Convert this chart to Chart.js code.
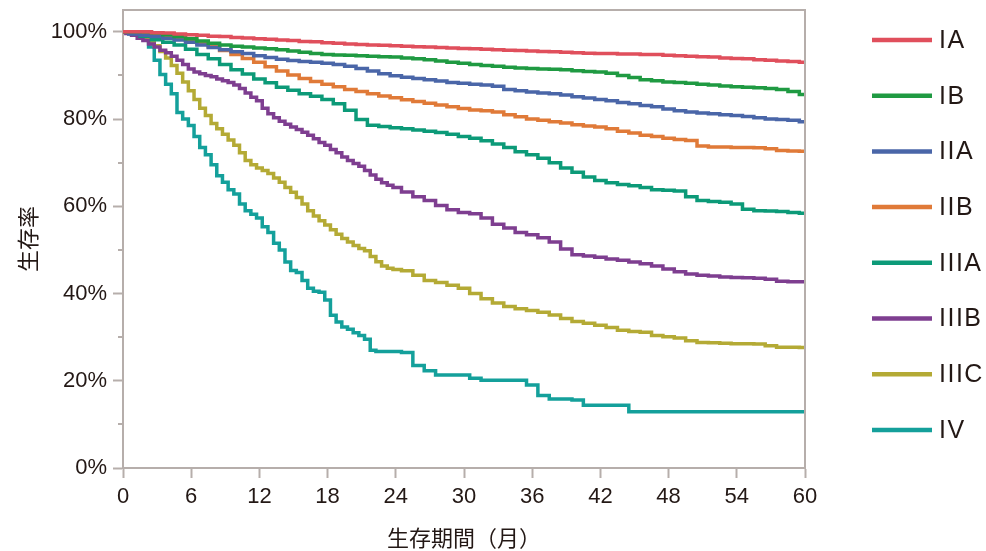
<!DOCTYPE html>
<html>
<head>
<meta charset="utf-8">
<script src="https://cdn.jsdelivr.net/npm/chart.js@4/dist/chart.umd.min.js"></script>
<style>
  html, body { margin: 0; padding: 0; background: #fff; }
  #wrap { width: 986px; height: 551px; }
</style>
</head>
<body>
<div id="wrap"><canvas id="survivalChart" width="986" height="551"></canvas></div>
<script>
// stage names (legend order)
const stages = ['IA', 'IB', 'IIA', 'IIB', 'IIIA', 'IIIB', 'IIIC', 'IV'];

// monthly grid, 0..60
const months = [0,1,2,3,4,5,6,7,8,9,10,11,12,13,14,15,16,17,18,19,20,21,22,23,24,25,26,27,28,29,30,
  31,32,33,34,35,36,37,38,39,40,41,42,43,44,45,46,47,48,49,50,51,52,53,54,55,56,57,58,59,60];

// finer grid for the steep curves (half months up to 24)
const monthsFine = [0,0.5,1,1.5,2,2.5,3,3.5,4,4.5,5,5.5,6,6.5,7,7.5,8,8.5,9,9.5,10,10.5,11,11.5,12,
  12.5,13,13.5,14,14.5,15,15.5,16,16.5,17,17.5,18,18.5,19,19.5,20,20.5,21,21.5,22,22.5,23,23.5,24,
  25,26,27,28,29,30,31,32,33,34,35,36,37,38,39,40,41,42,43,44,45,46,47,48,49,50,51,52,53,54,55,56,57,58,59,60];

// survival (%)
const survIA = [100,100,100,99.8,99.7,99.5,99.3,99.2,99.0,98.9,98.7,98.6,98.4,98.3,98.1,98.0,97.8,97.7,97.5,97.4,
  97.2,97.1,97.0,96.9,96.8,96.7,96.6,96.5,96.4,96.3,96.2,96.1,96.0,95.9,95.8,95.7,95.6,95.5,95.4,95.3,
  95.2,95.1,95.0,95.0,94.9,94.9,94.8,94.8,94.6,94.5,94.4,94.3,94.2,94.0,93.9,93.8,93.6,93.5,93.3,93.2,93.0];
const survIB = [100,100,100,99.7,99.3,98.9,98.4,97.9,97.4,97.0,96.7,96.5,96.3,96.1,95.9,95.6,95.3,95.0,94.8,94.7,
  94.6,94.5,94.4,94.3,94.2,94.0,93.8,93.6,93.3,93.0,92.8,92.5,92.3,92.1,91.9,91.7,91.6,91.5,91.4,91.3,
  91.1,90.9,90.8,90.5,90.0,89.5,89.0,88.8,88.5,88.4,88.2,88.0,87.8,87.6,87.4,87.3,87.2,87.0,86.8,86.3,85.6];
const survIIA = [100,99.5,99.2,98.9,98.5,98.1,97.6,97.0,96.4,95.9,95.4,95.0,94.5,94.1,93.7,93.4,93.2,93.0,92.8,92.5,
  92.1,91.6,91.0,90.4,89.9,89.6,89.3,89.0,88.7,88.4,88.2,88.0,87.8,87.5,86.8,86.5,86.2,86.0,85.8,85.5,
  85.1,84.8,84.5,84.2,83.8,83.5,83.1,82.8,82.3,81.9,81.6,81.4,81.2,81.0,80.8,80.6,80.3,80.0,79.9,79.7,79.4];
const survIIB = [100,100,99.8,99.4,99.0,98.5,98.0,97.3,96.6,95.7,94.8,93.9,93.0,92.0,91.0,90.1,89.3,88.6,88.0,87.4,
  86.8,86.3,85.8,85.3,84.9,84.4,84.0,83.6,83.2,82.8,82.4,82.1,81.9,81.6,81.0,80.5,80.0,79.7,79.4,79.1,
  78.7,78.4,78.2,77.8,77.2,76.8,76.3,76.0,75.6,75.3,75.1,73.8,73.6,73.6,73.5,73.5,73.4,73.2,72.8,72.7,72.6];
const survIIIA = [100,99.6,99.0,98.2,97.6,97.0,96.0,94.8,93.8,92.5,91.3,90.3,89.2,88.3,87.3,86.6,85.8,85.2,84.5,83.5,
  82.0,79.9,78.6,78.3,78.0,77.8,77.5,77.2,76.9,76.5,76.0,75.6,75.0,74.3,73.5,72.5,71.8,71.0,70.0,68.8,
  67.8,66.7,65.9,65.4,65.0,64.7,64.3,63.8,63.7,63.5,62.2,61.3,61.1,60.9,60.5,59.3,59.0,58.9,58.8,58.6,58.4];
const survIIIB = [100,99.6,99.2,98.5,98.0,97.2,96.5,95.8,95.2,94.4,93.5,92.5,91.5,90.8,90.4,90.0,89.7,89.2,88.8,88.4,
  87.8,87.0,86.0,85.0,84.2,82.5,81.2,80.3,79.5,78.8,78.2,77.6,77.0,76.3,75.5,74.6,74.0,73.0,72.3,71.3,
  70.5,69.8,69.2,68.2,67.2,66.2,65.4,64.8,64.3,
  63.3,62.2,61.3,60.2,59.2,58.6,58.3,57.3,55.9,55.0,54.0,53.5,52.8,51.8,50.2,48.9,48.6,48.3,47.9,47.6,
  47.2,46.8,46.3,45.6,45.0,44.5,44.2,44.0,43.8,43.7,43.6,43.5,43.3,42.8,42.7,42.7];
const survIIIC = [100,100,99.8,99.4,98.8,97.8,96.8,95.5,94.0,92.3,90.5,88.5,86.5,84.5,82.5,80.8,79.0,77.8,76.5,75.2,
  74.0,72.3,70.5,69.5,68.8,68.2,67.5,66.5,65.5,64.3,63.2,62.0,60.5,59.0,57.8,56.7,55.7,54.6,53.6,52.6,
  51.8,51.0,50.3,49.8,48.5,47.3,46.3,45.8,45.5,
  45.2,44.2,43.0,42.5,41.9,41.2,40.0,38.8,37.8,37.0,36.5,36.1,35.7,35.1,34.3,33.6,33.2,32.7,32.2,31.6,
  31.3,31.1,30.4,30.1,29.8,29.2,28.8,28.7,28.6,28.5,28.5,28.4,28.0,27.7,27.7,27.6];
const survIV = [100,100,100,99.7,98.5,96.5,93.5,90.2,88.0,85.8,81.5,80.0,78.5,76.0,73.5,71.8,69.5,67.0,65.5,63.8,
  62.8,60.5,59.0,58.2,57.3,55.3,54.0,51.5,50.0,47.2,45.3,44.8,43.0,41.2,40.5,40.3,38.5,35.0,33.5,32.3,
  31.8,31.0,30.4,29.5,27.0,26.7,26.7,26.7,26.7,
  26.5,23.5,22.3,21.3,21.3,21.3,20.6,20.1,20.1,20.1,20.1,19.0,16.6,15.8,15.8,15.6,14.4,14.4,14.4,14.4,
  12.9,12.9,12.9,12.9,12.9,12.9,12.9,12.9,12.9,12.9,12.9,12.9,12.9,12.9,12.9,12.9];

const xTicks = [0, 6, 12, 18, 24, 30, 36, 42, 48, 54, 60];
const yTicks = [0, 20, 40, 60, 80, 100];
const yMinorTicks = [10, 30, 50, 70, 90];

// styling
const lineColors = ['#e04f5c', '#1f9a42', '#4a66a8', '#e07a38', '#0c9a78', '#7e3e90', '#b4aa35', '#14a09b'];
const axisColor = '#b6aeab';
const textColor = '#231815';
const numFont = "'Liberation Sans', Arial, sans-serif";
const jpFont = "'Noto Sans CJK JP', sans-serif";

const seriesValues = [survIA, survIB, survIIA, survIIB, survIIIA, survIIIB, survIIIC, survIV];
const seriesTimes = [months, months, months, months, months, monthsFine, monthsFine, monthsFine];

function toPoints(times, vals) {
  return times.map((t, i) => ({ x: t, y: vals[i] }));
}

// top/right frame, minor y ticks and the legend on the right
const framePlugin = {
  id: 'framePlugin',
  afterDraw(chart) {
    const { ctx, chartArea: a, scales } = chart;
    ctx.save();
    ctx.strokeStyle = axisColor;
    ctx.lineWidth = 2;
    ctx.beginPath();
    ctx.moveTo(a.left, a.top);
    ctx.lineTo(a.right, a.top);
    ctx.lineTo(a.right, a.bottom);
    yMinorTicks.forEach(v => {
      const y = Math.round(scales.y.getPixelForValue(v));
      ctx.moveTo(a.left - 5, y);
      ctx.lineTo(a.left, y);
    });
    ctx.stroke();

    // legend
    const x0 = 872, x1 = 932, top = 40, gap = 55.7;
    ctx.font = '25px ' + numFont;
    ctx.textBaseline = 'middle';
    ctx.textAlign = 'left';
    if ('letterSpacing' in ctx) ctx.letterSpacing = '1.5px';
    chart.data.datasets.forEach((ds, i) => {
      const y = top + i * gap;
      ctx.strokeStyle = ds.borderColor;
      ctx.lineWidth = 4.5;
      ctx.beginPath();
      ctx.moveTo(x0, y);
      ctx.lineTo(x1, y);
      ctx.stroke();
      ctx.fillStyle = textColor;
      ctx.fillText(ds.label, 939, y + 1);
    });
    ctx.restore();
  }
};

const ctx = document.getElementById('survivalChart').getContext('2d');
new Chart(ctx, {
  type: 'line',
  data: {
    datasets: stages.map((s, i) => ({
      label: s,
      data: toPoints(seriesTimes[i], seriesValues[i]),
      borderColor: lineColors[i],
      borderWidth: 3.5,
      pointRadius: 0,
      stepped: 'middle',
      fill: false
    }))
  },
  options: {
    responsive: false,
    devicePixelRatio: 1,
    animation: false,
    layout: { padding: { top: 10, right: 181, left: 0, bottom: 0 } },
    plugins: { legend: { display: false }, tooltip: { enabled: false } },
    scales: {
      x: {
        type: 'linear',
        min: 0,
        max: 60,
        afterBuildTicks: s => { s.ticks = xTicks.map(v => ({ value: v })); },
        ticks: { font: { family: numFont, size: 22 }, color: textColor, padding: 6, maxRotation: 0 },
        grid: { drawOnChartArea: false, tickLength: 10, tickColor: axisColor, tickWidth: 2 },
        border: { color: axisColor, width: 2 },
        title: { display: true, text: '生存期間（月）', font: { family: jpFont, size: 22 }, color: textColor, padding: { top: 0, bottom: 0 } },
        afterFit: s => { s.height = 83; }
      },
      y: {
        min: 0,
        max: 105,
        afterBuildTicks: s => { s.ticks = yTicks.map(v => ({ value: v })); },
        ticks: { font: { family: numFont, size: 22 }, color: textColor, padding: 6, callback: v => v + '%' },
        grid: { drawOnChartArea: false, tickLength: 10, tickColor: axisColor, tickWidth: 2 },
        border: { color: axisColor, width: 2 },
        title: { display: true, text: '生存率', font: { family: jpFont, size: 22 }, color: textColor, padding: { top: 14, bottom: 0 } },
        afterFit: s => { s.width = 123; s.paddingTop = 0; s.paddingBottom = 0; }
      }
    }
  },
  plugins: [framePlugin]
});
</script>
</body>
</html>
